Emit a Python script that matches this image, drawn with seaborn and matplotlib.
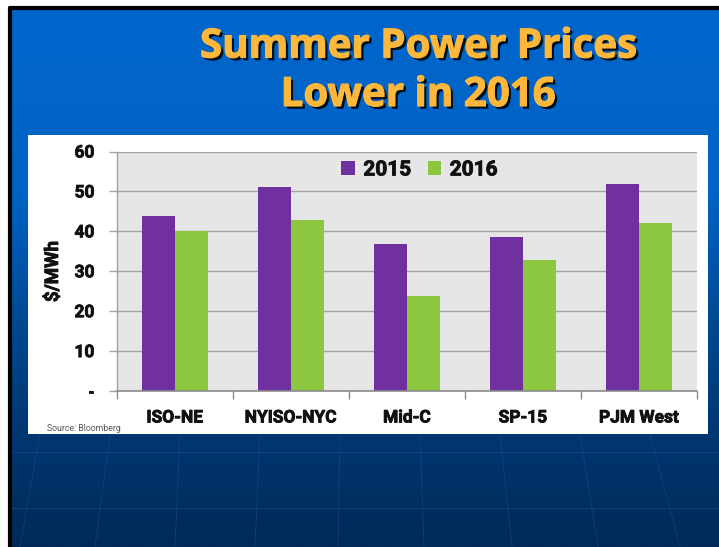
import numpy as np
import pandas as pd
import matplotlib
matplotlib.use("Agg")
import matplotlib.pyplot as plt
import matplotlib.patheffects as pe
from matplotlib.colors import LinearSegmentedColormap
import seaborn as sns

# ---- data ----
regions = ["ISO-NE", "NYISO-NYC", "Mid-C", "SP-15", "PJM West"]
prices_2015 = [43.9, 51.0, 36.8, 38.7, 51.9]
prices_2016 = [40.2, 42.8, 23.9, 32.7, 42.2]
years = ["2015", "2016"]
y_ticks = [0, 10, 20, 30, 40, 50, 60]
y_tick_labels = ["-", "10", "20", "30", "40", "50", "60"]

df = pd.DataFrame({
    "region": regions * 2,
    "year": [years[0]] * len(regions) + [years[1]] * len(regions),
    "price": prices_2015 + prices_2016,
})

sns.set_theme(style="white")
plt.rcParams["font.family"] = ["Roboto", "DejaVu Sans"]

W, H = 719, 547
fig = plt.figure(figsize=(W / 100, H / 100), dpi=100)
fig.patch.set_facecolor("white")

# ---- slide background ----
bg = fig.add_axes([0, 0, 1, 1])
bg.set_xlim(0, W)
bg.set_ylim(H, 0)
bg.axis("off")
cmap = LinearSegmentedColormap.from_list(
    "slide", [(0, "#0066CC"), (0.35, "#0062C4"), (0.6, "#00478f"), (0.8, "#003670"), (1.0, "#002a58")])
grad = np.linspace(0, 1, 256).reshape(-1, 1)
bg.imshow(grad, cmap=cmap, extent=[11, W, H, 9], aspect="auto", zorder=0)
# black border
bg.plot([9.5, 9.5], [7.5, H], color="black", lw=3, zorder=1)
bg.plot([9.5, W], [7.5, 7.5], color="black", lw=3, zorder=1)
# faint decorative globe lines
for x0, x1 in [(40, 20), (110, 95), (180, 175), (260, 255), (340, 338), (420, 424),
               (500, 512), (580, 598), (650, 680)]:
    bg.plot([x0, x1], [434, H], color="#1f5fa6", lw=0.6, alpha=0.4, zorder=1)
for yy in [452, 508]:
    bg.plot([11, W], [yy, yy], color="#1f5fa6", lw=0.6, alpha=0.4, zorder=1)
# white chart panel
bg.add_patch(plt.Rectangle((28, 135), 708 - 28, 434 - 135, facecolor="white",
                           edgecolor="none", zorder=2))

# ---- title ----
shadow = [pe.withSimplePatchShadow(offset=(2, -2), shadow_rgbFace="black", alpha=0.85),
          pe.withStroke(linewidth=0.8, foreground="#FDB73A")]
for line, yb in [("Summer Power Prices", 57.5), ("Lower in 2016", 106)]:
    fig.text(418 / W, 1 - yb / H, line, ha="center", va="baseline",
             fontsize=29, fontweight="bold", color="#FDB73A",
             family=["Open Sans", "DejaVu Sans"], path_effects=shadow)

# ---- chart ----
left, right, top, bottom = 116.7, 697, 151.5, 391
ax = fig.add_axes([left / W, 1 - bottom / H, (right - left) / W, (bottom - top) / H])
ax.set_facecolor("#E6E6E6")
ax.set_axisbelow(True)

sns.barplot(data=df, x="region", y="price", hue="year",
            palette=["#7030A0", "#8DC63F"], width=0.57, saturation=1,
            edgecolor="none", ax=ax, legend=True)

ax.set_xlim(-0.5, len(regions) - 0.5)
ax.set_ylim(0, 60)
ax.set_yticks(y_ticks)
ax.set_yticklabels(y_tick_labels)
ax.yaxis.grid(True, color="#A3A3A3", lw=1)
ax.xaxis.grid(False)

ax.set_xticks(np.arange(-0.5, len(regions), 1), minor=True)
ax.tick_params(axis="x", which="major", length=0, pad=14, labelsize=12.5)
ax.tick_params(axis="x", which="minor", length=6, width=1, color="#8C8C8C", direction="out", bottom=True)
ax.tick_params(axis="y", which="major", length=6, width=1, color="#A3A3A3", direction="out",
               left=True, labelsize=12.5, pad=10)
heavy = [pe.withStroke(linewidth=0.6, foreground="#111111")]
for lab in ax.get_xticklabels() + ax.get_yticklabels():
    lab.set_fontweight("bold")
    lab.set_color("#111111")
    lab.set_path_effects(heavy)

for s in ["top", "right"]:
    ax.spines[s].set_visible(False)
ax.spines["left"].set_color("#A3A3A3")
ax.spines["left"].set_linewidth(1)
ax.spines["bottom"].set_color("#8C8C8C")
ax.spines["bottom"].set_linewidth(1.2)
ax.set_xlabel("")
ax.set_ylabel("")

leg = ax.legend(loc="center", bbox_to_anchor=(0.522, 0.923), ncol=2, frameon=False,
                handlelength=0.65, handleheight=0.65, handletextpad=0.4,
                columnspacing=0.8, prop={"weight": "bold", "size": 15})
for t in leg.get_texts():
    t.set_color("#111111")
    t.set_path_effects(heavy)

fig.text(53 / W, 1 - 271.5 / H, "$/MWh", rotation=90, ha="center", va="center",
         fontsize=13.5, fontweight="bold", color="#111111", path_effects=heavy)
fig.text(47 / W, 1 - 428.5 / H, "Source: Bloomberg", ha="left", va="center",
         fontsize=6.3, color="#555555")

fig.savefig("out.png", dpi=100)
